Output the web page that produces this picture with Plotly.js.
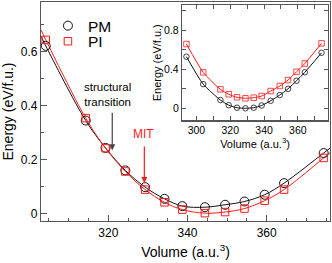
<!DOCTYPE html>
<html><head><meta charset="utf-8">
<script src="https://cdn.plot.ly/plotly-3.0.1.min.js"></script>
<style>html,body{margin:0;padding:0;background:#fff}#chart{width:332px;height:263px}</style>
</head><body><div id="chart"></div>
<script>
// Main panel data
const mainVolume = [304.2, 314.3, 319.3, 324.3, 329.3, 334.2, 338.7, 344.4, 349.5, 354.4, 359.5, 364.4, 374.4];
const mainPM = [0.621, 0.345, 0.244, 0.161, 0.099, 0.056, 0.029, 0.025, 0.034, 0.046, 0.071, 0.114, 0.225];
const mainPI = [0.643, 0.354, 0.243, 0.157, 0.090, 0.043, 0.016, 0.003, 0.007, 0.020, 0.049, 0.090, 0.207];
// fitted curve values at the panel edges
const curveEdgeVolume = [303, 376];
const pmCurveEdge = [0.657, 0.243];
const piCurveEdge = [0.680, 0.226];
// Inset data
const insetVolume = [294.1, 304.0, 314.2, 319.1, 324.0, 329.0, 333.9, 338.6, 343.9, 349.3, 354.2, 359.2, 364.1, 374.0];
const insetPM = [0.53, 0.248, 0.085, 0.032, 0.006, 0.0, 0.006, 0.029, 0.077, 0.136, 0.200, 0.283, 0.370, 0.570];
const insetPI = [0.66, 0.369, 0.195, 0.144, 0.113, 0.103, 0.109, 0.126, 0.177, 0.229, 0.290, 0.375, 0.460, 0.667];
// Annotation values
const structuralArrow = {x: 321, from: 0.379, to: 0.235};
const mitArrow = {x: 329.1, from: 0.255, to: 0.114};
const labels = {pm: 'PM', pi: 'PI', structural: 'structural<br>transition', mit: 'MIT'};

const BLK = '#111', RED = '#ff1a1a';
const FONT = 'Liberation Sans, Arial, Helvetica, sans-serif';

const traces = [
  {x: [curveEdgeVolume[0], ...mainVolume, curveEdgeVolume[1]], y: [pmCurveEdge[0], ...mainPM, pmCurveEdge[1]],
   mode: 'lines', line: {color: BLK, width: 1, shape: 'spline', smoothing: 1}, showlegend: false, hoverinfo: 'skip'},
  {x: [curveEdgeVolume[0], ...mainVolume, curveEdgeVolume[1]], y: [piCurveEdge[0], ...mainPI, piCurveEdge[1]],
   mode: 'lines', line: {color: RED, width: 1, shape: 'spline', smoothing: 1}, showlegend: false, hoverinfo: 'skip'},
  {x: mainVolume, y: mainPM, mode: 'markers', name: labels.pm, legend: 'legend',
   marker: {symbol: 'circle-open', size: 9, color: BLK, line: {width: 1}}},
  {x: mainVolume, y: mainPI, mode: 'markers', name: labels.pi, legend: 'legend2',
   marker: {symbol: 'square-open', size: 7.5, color: RED, line: {width: 1}}},
  {x: insetVolume, y: insetPM, xaxis: 'x2', yaxis: 'y2', mode: 'lines+markers', showlegend: false,
   line: {color: BLK, width: 1, shape: 'spline', smoothing: 0.6},
   marker: {symbol: 'circle-open', size: 5.5, color: BLK, line: {width: 0.8}}},
  {x: insetVolume, y: insetPI, xaxis: 'x2', yaxis: 'y2', mode: 'lines+markers', showlegend: false,
   line: {color: RED, width: 1, shape: 'spline', smoothing: 0.6},
   marker: {symbol: 'square-open', size: 5.5, color: RED, line: {width: 0.8}}}
];

const axLine = '#555';
const layout = {
  width: 332, height: 263,
  margin: {l: 41, r: 2, t: 2, b: 42},
  paper_bgcolor: '#fff', plot_bgcolor: '#fff',
  font: {family: FONT, color: '#000', size: 12},
  showlegend: true,
  xaxis: {domain: [0, 1], range: [303, 376], tick0: 300, dtick: 20, ticks: 'inside', ticklen: 6, tickwidth: 1, tickcolor: axLine,
    minor: {dtick: 5, ticks: 'inside', ticklen: 3, tickcolor: axLine},
    showline: true, linecolor: axLine, linewidth: 1.2, mirror: true, showgrid: false, zeroline: false,
    tickfont: {size: 12}, title: {text: 'Volume (a.u.<sup>3</sup>)', font: {size: 14}, standoff: 8}},
  yaxis: {domain: [0, 1], range: [-0.026, 0.783], tick0: 0, dtick: 0.2, ticks: 'inside', ticklen: 6, tickwidth: 1, tickcolor: axLine,
    minor: {dtick: 0.1, ticks: 'inside', ticklen: 3, tickcolor: axLine},
    showline: true, linecolor: axLine, linewidth: 1.2, mirror: true, showgrid: false, zeroline: false,
    tickfont: {size: 12}, title: {text: 'Energy (eV/f.u.)', font: {size: 14}, standoff: 6}},
  xaxis2: {anchor: 'y2', domain: [0.488, 0.993], range: [291.5, 377.8], tick0: 300, dtick: 20, ticks: 'inside', ticklen: 4, tickwidth: 1, tickcolor: axLine,
    minor: {dtick: 10, ticks: 'inside', ticklen: 4, tickcolor: axLine},
    showline: true, linecolor: axLine, linewidth: 1.2, mirror: 'allticks', showgrid: false, zeroline: false,
    tickfont: {size: 10.5}, title: {text: 'Volume (a.u.<sup>3</sup>)', font: {size: 11}, standoff: 4}},
  yaxis2: {anchor: 'x2', domain: [0.459, 0.986], range: [-0.125, 1.06], tick0: 0, dtick: 0.4, ticks: 'inside', ticklen: 4, tickwidth: 1, tickcolor: axLine,
    minor: {dtick: 0.2, ticks: 'inside', ticklen: 4, tickcolor: axLine},
    showline: true, linecolor: axLine, linewidth: 1.2, mirror: 'allticks', showgrid: false, zeroline: false,
    tickfont: {size: 10.5}, title: {text: 'Energy (eV/f.u.)', font: {size: 11}, standoff: 0}},
  legend: {x: 0.024, y: 0.890, xanchor: 'left', yanchor: 'middle', font: {size: 15.5}, bgcolor: 'rgba(0,0,0,0)', borderwidth: 0},
  legend2: {x: 0.024, y: 0.819, xanchor: 'left', yanchor: 'middle', font: {size: 15.5}, bgcolor: 'rgba(0,0,0,0)', borderwidth: 0},
  annotations: [
    {x: structuralArrow.x, y: structuralArrow.to, ax: structuralArrow.x, ay: structuralArrow.from, axref: 'x', ayref: 'y',
     xref: 'x', yref: 'y', text: '', showarrow: true, arrowhead: 2, arrowsize: 1, arrowwidth: 1.2, arrowcolor: '#444'},
    {x: mitArrow.x, y: mitArrow.to, ax: mitArrow.x, ay: mitArrow.from, axref: 'x', ayref: 'y',
     xref: 'x', yref: 'y', text: '', showarrow: true, arrowhead: 2, arrowsize: 1, arrowwidth: 1.2, arrowcolor: RED},
    {x: 319.9, y: 0.442, xref: 'x', yref: 'y', text: labels.structural, showarrow: false, font: {size: 11.5}},
    {x: 328.9, y: 0.296, xref: 'x', yref: 'y', text: labels.mit, showarrow: false, font: {size: 12, color: RED}}
  ]
};

Plotly.newPlot('chart', traces, layout, {staticPlot: true, displayModeBar: false});
</script>
</body></html>
